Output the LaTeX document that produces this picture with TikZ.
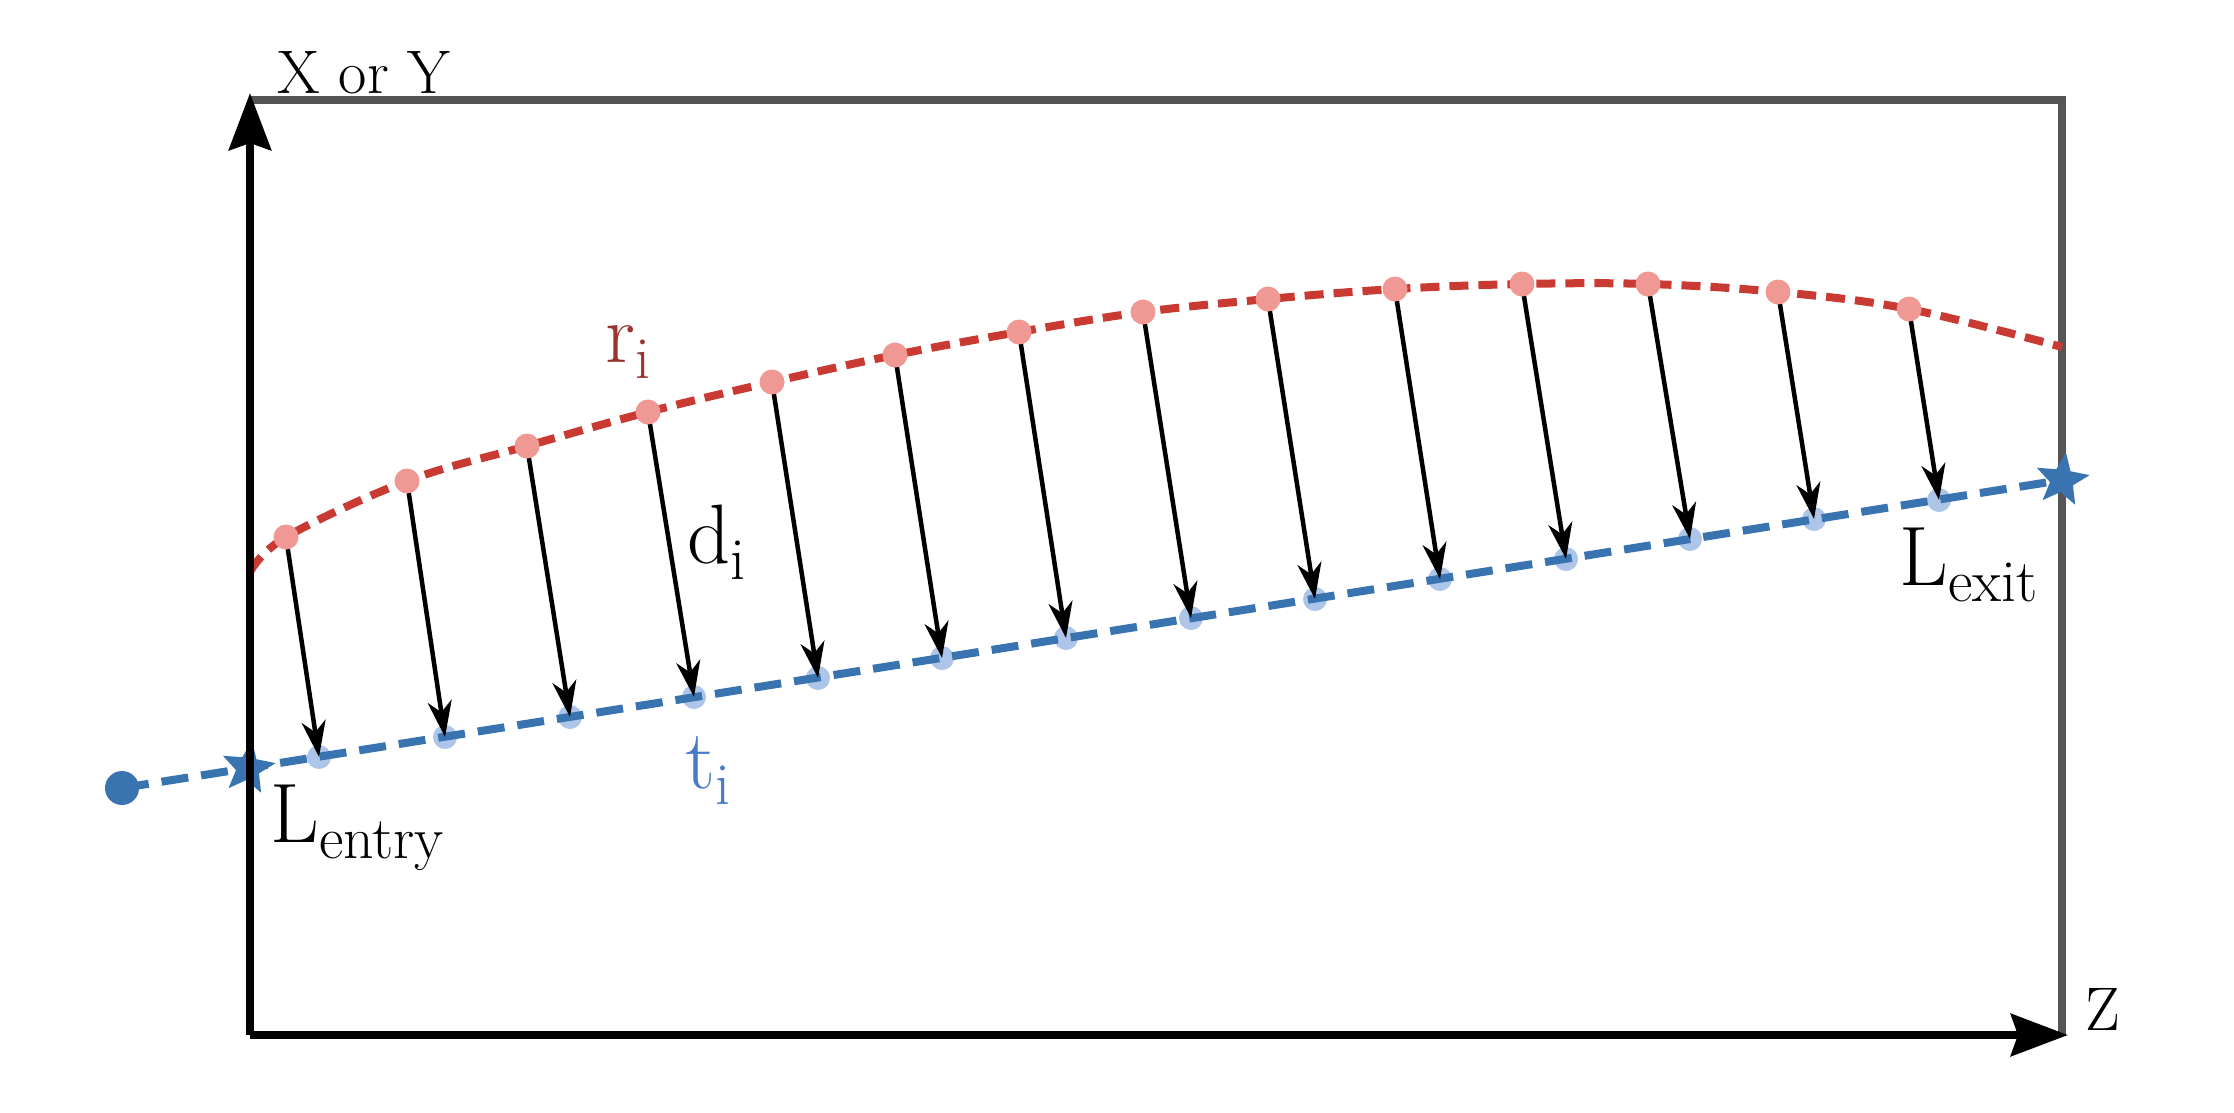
\documentclass[tikz,border=0pt]{standalone}
\usetikzlibrary{arrows.meta,shapes.geometric}
\definecolor{redline}{RGB}{201,58,51}
\definecolor{pinkdot}{RGB}{240,153,148}
\definecolor{blueline}{RGB}{58,116,176}
\definecolor{lightbluedot}{RGB}{172,197,232}
\definecolor{framegray}{RGB}{85,85,85}
\definecolor{rtext}{RGB}{155,52,47}
\definecolor{ttext}{RGB}{72,122,200}
\newcommand{\subtxt}[1]{\raisebox{-0.2em}{\fontsize{17}{20}\selectfont #1}}
\tikzset{
  axisline/.style={line width=0.08cm, black},
  frameline/.style={line width=0.08cm, framegray},
  redcurve/.style={line width=0.08cm, redline, dash pattern=on 0.19cm off 0.1cm},
  bluecurve/.style={line width=0.08cm, blueline, dash pattern=on 0.27cm off 0.13cm},
  reddot/.style={circle, fill=pinkdot, inner sep=0pt, minimum size=0.25cm},
  bluedot/.style={circle, fill=lightbluedot, inner sep=0pt, minimum size=0.24cm},
  bluestar/.style={star, star points=5, star point ratio=2.3, fill=blueline, inner sep=0pt, minimum size=0.56cm, shape border rotate=-8},
  distarrow/.style={line width=0.045cm, black, -{Stealth[length=0.36cm,width=0.24cm,inset=0.11cm]}},
  axistip/.style={-{Stealth[length=0.57cm,width=0.42cm,inset=0.07cm]}},
  lbl/.style={inner sep=0pt, anchor=base west, font=\fontsize{24}{28}\selectfont},
  axlbl/.style={inner sep=0pt, anchor=base west, font=\fontsize{17.5}{20}\selectfont},
}
\begin{document}
\begin{tikzpicture}[x=0.01cm,y=-0.01cm]
\useasboundingbox (0,0) rectangle (2234,1112);
% frame
\coordinate (O) at (250,1035);
\coordinate (Ytip) at (250,93);
\coordinate (Ztip) at (2068,1035);
\coordinate (TL) at (250,100);
\coordinate (TR) at (2062,100);
\coordinate (BR) at (2062,1035);
\draw[frameline] (TL) -- (TR) -- (BR);
% blue dots
\foreach \i/\x/\y in {1/319/757,2/445/737,3/570/717,4/694/697,5/818/678,6/942/658,7/1066/638,8/1191/618,9/1315/599,10/1440/579,11/1566/559,12/1690/539,13/1814/519,14/1939/500}
  \node[bluedot] (t\i) at (\x,\y) {};
% blue line
\node[circle, fill=blueline, inner sep=0pt, minimum size=0.34cm] (bstart) at (122,788) {};
\coordinate (exitpt) at (2062,480);
\draw[bluecurve] (bstart.center) -- (exitpt);
\node[bluestar] (entry) at (248,768) {};
\node[bluestar] (exit) at (exitpt) {};
% red curve
\draw[redcurve] plot[smooth, tension=0.6] coordinates {(250,572) (286,537) (407,481) (527,446) (648,412) (772,382) (895,355) (1019,332) (1143,312) (1268,299) (1395,289) (1522,284) (1648,284) (1778,292) (1909,309) (2062,347)};
% arrows and red dots
\foreach \i/\x/\y in {1/286/537,2/407/481,3/527/446,4/648/412,5/772/382,6/895/355,7/1019/332,8/1143/312,9/1268/299,10/1395/289,11/1522/284,12/1648/284,13/1778/292,14/1909/309}
  \coordinate (rc\i) at (\x,\y);
\foreach \i in {1,...,14}
  \draw[distarrow] (rc\i) -- (t\i.center);
\foreach \i in {1,...,14}
  \node[reddot] (r\i) at (rc\i) {};
% axes
\draw[axisline, axistip] (O) -- (Ytip);
\draw[axisline, axistip] (O) -- (Ztip);
% labels
\node[axlbl] (ylab) at (277,93) {X or Y};
\node[axlbl] (zlab) at (2085,1030) {Z};
\node[lbl, text=rtext] (rlab) at (605,362) {r\subtxt{i}};
\node[lbl] (dlab) at (687,563) {d\subtxt{i}};
\node[lbl, text=ttext] (tlab) at (685,788) {t\subtxt{i}};
\node[lbl] (lentry) at (270,842) {L\subtxt{entry}};
\node[lbl] (lexit) at (1899,585) {L\subtxt{exit}};
\end{tikzpicture}
\end{document}
